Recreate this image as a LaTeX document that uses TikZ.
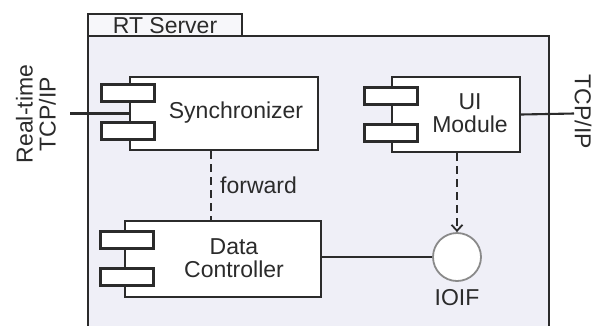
\documentclass[tikz,border=0pt]{standalone}
\usepackage{fontspec}
\setmainfont{Liberation Sans}
\usetikzlibrary{arrows.meta}
\definecolor{ink}{HTML}{2B2B2B}
\definecolor{serverbg}{HTML}{EFEFF7}
\definecolor{tabbg}{HTML}{F7F7FA}
\definecolor{ringgray}{HTML}{8A8A8A}
\tikzset{
  every node/.style={font=\fontsize{23}{26}\selectfont, text=ink},
  wire/.style={draw=ink, line width=2.1pt},
  body/.style={draw=ink, line width=2.1pt, fill=white, inner sep=0pt},
  port/.style={draw=ink, line width=2.1pt, fill=white, inner sep=0pt,
               minimum width=53pt, minimum height=17pt},
  dep/.style={draw=ink, line width=1.8pt, dash pattern=on 8pt off 5pt},
  iface/.style={circle, draw=ringgray, line width=1.8pt, fill=white,
                minimum size=48pt, inner sep=0pt},
  lbl/.style={inner sep=0pt, align=center}
}
\begin{document}
\begin{tikzpicture}[x=1pt, y=-1pt]
\useasboundingbox (0,0) rectangle (596,325);
\fill[white] (0,0) rectangle (596,325);
\clip (0,0) rectangle (596,325);

% server container with its name tab (open at the bottom)
\draw[fill=tabbg, draw=ink, line width=2.1pt] (88,14) rectangle (242,36);
\draw[fill=serverbg, draw=ink, line width=2.1pt] (88,340) -- (88,36) -- (549,36) -- (549,340);
\node[lbl] (srvname) at (165,25.5) {RT Server};

% Synchronizer component
\node[body, minimum width=188pt, minimum height=73pt] (sync) at (224,113.5) {};
\node[port] (syncp1) at (128,93) {};
\node[port] (syncp2) at (128,131) {};
\node[lbl] (synct) at (236,113) {Synchronizer};

% UI Module component
\node[body, minimum width=128pt, minimum height=75pt] (ui) at (456,114.5) {};
\node[port] (uip1) at (391,96) {};
\node[port] (uip2) at (391,133) {};
\node[lbl] (uit) at (470,113) {UI\\[-3pt]Module};

% Data Controller component
\node[body, minimum width=196pt, minimum height=76pt] (data) at (223,259) {};
\node[port] (datap1) at (127,240) {};
\node[port] (datap2) at (127,277) {};
\node[lbl] (datat) at (234,258) {Data\\[-3pt]Controller};

% IOIF interface
\node[iface] (ioif) at (457,257) {};
\node[lbl, anchor=north] (ioift) at ([yshift=-7pt]ioif.south) {IOIF};

% external connections
\coordinate (extl) at (70,113.5);
\coordinate (extr) at (574,113.5);
\draw[wire] (extl) -- (sync.west);
\draw[wire] (ui.east) -- (extr);
\node[lbl, rotate=90] (rtl) at (36,114) {Real-time\\[-3pt]TCP/IP};
\node[lbl, rotate=-90] (rtr) at (583,112) {TCP/IP};

% internal connections
\coordinate (fwdx) at (211,0);
\draw[dep] (sync.south -| fwdx) -- (data.north -| fwdx);
\node[lbl, anchor=west] (fwdt) at (220,185) {forward};
\draw[dep, -{Straight Barb[length=6pt, width=11pt, line width=1.8pt]}] (ui.south -| ioif) -- (ioif.north);
\draw[wire] (data.east |- ioif) -- (ioif.west);
\end{tikzpicture}
\end{document}
